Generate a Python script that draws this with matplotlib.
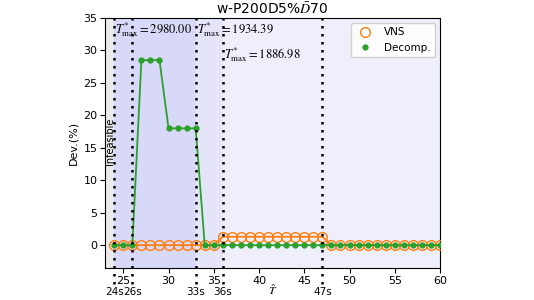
import matplotlib
matplotlib.use("Agg")
import matplotlib.pyplot as plt
import matplotlib.transforms as mtransforms
from matplotlib.lines import Line2D

T = list(range(24, 61))
vns = [0.0] * 12 + [1.3] * 12 + [0.0] * 13
decomp = [0.0, 0.0, 0.0, 28.5, 28.5, 28.5, 18.0, 18.0, 18.0, 18.0] + [0.0] * 27
marks = [24, 26, 33, 36, 47]
mark_labels = ["24s", "26s", "33s", "36s", "47s"]
tmax_texts = [r"$T^{*}_{\max} = 2980.00$", r"$T^{*}_{\max} = 1934.39$", r"$T^{*}_{\max} = 1886.98$"]
tmax_pos = [(24, 32.7), (33, 32.7), (36, 28.8)]

plt.rcParams['mathtext.fontset'] = 'stix'
fig = plt.figure(figsize=(5.34, 3.0), dpi=100)
ax = fig.add_axes([0.197, 0.107, 0.627, 0.833])

ax.set_xlim(23, 60)
ax.set_ylim(-3.5, 35)

ax.axvspan(23, 24, color="#ebebeb", zorder=0)
ax.axvspan(24, 33, color="#d8d8f8", zorder=0)
ax.axvspan(33, 36, color="#e5e5fa", zorder=0)
ax.axvspan(36, 60, color="#efeffc", zorder=0)

ax.plot(T, vns, color="#ff7f0e", marker="o", markersize=7, markerfacecolor="none",
        markeredgewidth=1.0, linewidth=1.3, zorder=3)
ax.plot(T, decomp, color="#2ca02c", marker="o", markersize=3.5, linewidth=1.3, zorder=4)

trans = mtransforms.blended_transform_factory(ax.transData, ax.transAxes)
for m, lab in zip(marks, mark_labels):
    ax.axvline(m, ymin=-0.065, ymax=1, color="black", linestyle=(0, (1, 2.2)),
               linewidth=1.8, clip_on=False, zorder=5)
    ax.text(m, -0.075, lab, transform=trans, ha="center", va="top", fontsize=7.5)

for txt, (x, y) in zip(tmax_texts, tmax_pos):
    ax.text(x + 0.12, y, txt, fontsize=9, ha="left", va="baseline", zorder=6)

ax.text(23.5, 16, "Infeasible", rotation=90, ha="center", va="center", fontsize=7)

ax.set_xticks([25, 30, 35, 40, 45, 50, 55, 60])
ax.set_yticks([0, 5, 10, 15, 20, 25, 30, 35])
ax.tick_params(labelsize=8, pad=2)
ax.set_ylabel("Dev.(%)", fontsize=8)
ax.set_xlabel(r"$\hat{T}$", fontsize=8.5)
ax.xaxis.set_label_coords(0.5, -0.062)
ax.xaxis.label.set_va("top")
ax.set_title(r"w-P200D5%$\bar{D}$70", fontsize=10, pad=3)

handles = [
    Line2D([], [], color="#ff7f0e", marker="o", markersize=7, markerfacecolor="none",
           linestyle="none", label="VNS"),
    Line2D([], [], color="#2ca02c", marker="o", markersize=3.5, linestyle="none", label="Decomp."),
]
ax.legend(handles=handles, loc="upper right", prop={"family": "DejaVu Sans", "size": 7.5},
          framealpha=0.9)

fig.savefig("out.png", dpi=100)
